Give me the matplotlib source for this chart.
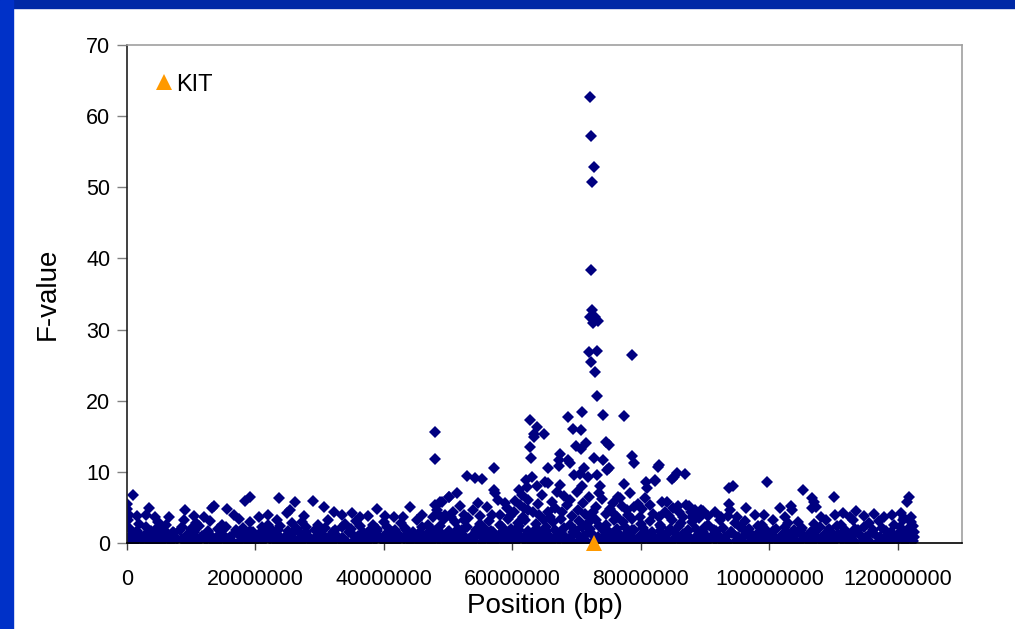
import matplotlib
matplotlib.use('Agg')
import matplotlib.pyplot as plt
from matplotlib.patches import Rectangle

plt.rcParams['font.family'] = ['Liberation Sans', 'DejaVu Sans']

# SNP positions (Mb) and F-values, dense band first
low_a = [
    (0.2, 0.3), (1.2, 0.1), (2.4, 0.4), (3.4, 0.2), (4.6, 0.0), (5.6, 0.3), (6.9, 0.2), (7.8, 0.5),
    (9.0, 0.1), (10.1, 0.3), (11.1, 0.2), (12.3, 0.4), (13.4, 0.1), (14.4, 0.3), (15.6, 0.2), (16.7, 0.0),
    (17.8, 0.4), (18.9, 0.2), (20.0, 0.1), (21.1, 0.3), (22.2, 0.5), (23.2, 0.2), (24.4, 0.1), (25.5, 0.3),
    (26.6, 0.2), (27.6, 0.4), (28.8, 0.0), (29.9, 0.3), (31.0, 0.2), (32.1, 0.1), (33.2, 0.4), (34.3, 0.2),
    (35.3, 0.3), (36.5, 0.1), (37.6, 0.2), (38.6, 0.4), (39.8, 0.3), (40.9, 0.1), (42.0, 0.2), (43.1, 0.5),
    (44.1, 0.2), (45.3, 0.3), (46.4, 0.1), (47.5, 0.2), (48.6, 0.4), (49.6, 0.1), (50.8, 0.3), (51.9, 0.2),
    (53.0, 0.0), (54.0, 0.3), (55.2, 0.2), (56.3, 0.4), (57.3, 0.1), (58.5, 0.3), (59.6, 0.2), (60.6, 0.1),
    (61.8, 0.4), (62.9, 0.2), (64.0, 0.3), (65.0, 0.1), (66.2, 0.2), (67.3, 0.4), (68.3, 0.2), (69.5, 0.1),
    (70.6, 0.3), (71.6, 0.2), (72.8, 0.4), (73.9, 0.1), (75.0, 0.3), (76.0, 0.2), (77.2, 0.0), (78.3, 0.3),
    (79.3, 0.2), (80.5, 0.4), (81.6, 0.1), (82.6, 0.3), (83.8, 0.2), (84.9, 0.1), (86.0, 0.4), (87.0, 0.2),
    (88.2, 0.3), (89.3, 0.1), (90.3, 0.2), (91.5, 0.4), (92.6, 0.2), (93.6, 0.1), (94.8, 0.3), (95.9, 0.2),
    (96.9, 0.0), (98.1, 0.3), (99.2, 0.2), (100.2, 0.4), (101.4, 0.1), (102.5, 0.3), (103.5, 0.2), (104.7, 0.1),
    (105.8, 0.4), (106.8, 0.2), (108.0, 0.3), (109.1, 0.1), (110.1, 0.2), (111.3, 0.4), (112.4, 0.2), (113.4, 0.1),
    (114.6, 0.3), (115.7, 0.2), (116.7, 0.0), (117.9, 0.3), (119.0, 0.2), (120.0, 0.4), (121.2, 0.1), (122.3, 0.3),
]

low_b = [
    (0.7, 1.1), (1.8, 0.8), (2.9, 1.3), (4.0, 0.7), (5.1, 1.0), (6.3, 0.9), (7.3, 1.4), (8.5, 0.6),
    (9.5, 1.2), (10.6, 0.8), (11.7, 1.0), (12.8, 1.3), (13.9, 0.7), (15.0, 1.1), (16.1, 0.9), (17.2, 1.4),
    (18.3, 0.8), (19.4, 1.0), (20.6, 1.2), (21.6, 0.7), (22.7, 1.3), (23.8, 0.9), (24.9, 1.1), (26.0, 0.6),
    (27.1, 1.2), (28.2, 1.0), (29.4, 0.8), (30.4, 1.3), (31.5, 0.9), (32.6, 1.1), (33.7, 0.7), (34.8, 1.4),
    (35.9, 1.0), (37.0, 0.8), (38.1, 1.2), (39.2, 0.9), (40.3, 1.3), (41.4, 0.7), (42.5, 1.0), (43.6, 1.2),
    (44.7, 0.8), (45.8, 1.1), (46.9, 1.4), (48.0, 0.9), (49.1, 1.2), (50.2, 0.7), (51.3, 1.3), (52.4, 1.0),
    (53.5, 0.8), (54.6, 1.2), (55.7, 1.4), (56.8, 0.9), (57.9, 1.1), (59.0, 0.7), (60.1, 1.3), (61.2, 1.0),
    (62.3, 1.2), (63.4, 0.8), (64.5, 1.4), (65.6, 1.1), (66.7, 0.9), (67.8, 1.3), (68.9, 0.7), (70.0, 1.2),
    (71.1, 1.0), (72.2, 1.4), (73.3, 0.8), (74.4, 1.1), (75.5, 1.3), (76.6, 0.9), (77.7, 1.2), (78.8, 0.7),
    (79.9, 1.0), (81.0, 1.3), (82.1, 0.8), (83.2, 1.1), (84.3, 1.4), (85.4, 0.9), (86.5, 1.2), (87.6, 0.7),
    (88.7, 1.0), (89.8, 1.3), (90.9, 0.8), (92.0, 1.1), (93.1, 0.9), (94.2, 1.4), (95.3, 0.7), (96.4, 1.2),
    (97.5, 1.0), (98.6, 0.8), (99.7, 1.3), (100.8, 0.9), (101.9, 1.1), (103.0, 0.7), (104.1, 1.2), (105.2, 1.0),
    (106.3, 1.4), (107.4, 0.8), (108.5, 1.1), (109.6, 0.9), (110.7, 1.3), (111.8, 0.7), (112.9, 1.0), (114.0, 1.2),
    (115.1, 0.8), (116.2, 1.4), (117.3, 0.9), (118.4, 1.1), (119.5, 0.7), (120.6, 1.3), (121.7, 1.0), (122.5, 0.8),
]

low_c = [
    (0.3, 2.1), (1.5, 1.7), (3.0, 2.3), (4.3, 1.8), (5.5, 2.0), (7.2, 1.6), (8.6, 2.2), (9.9, 1.9),
    (11.2, 2.4), (12.6, 1.7), (14.1, 2.0), (15.4, 2.3), (16.9, 1.8), (18.1, 2.1), (19.6, 1.6), (21.0, 2.2),
    (22.4, 1.9), (23.9, 2.4), (25.1, 1.7), (26.5, 2.0), (27.9, 2.3), (29.3, 1.8), (30.8, 2.1), (32.0, 1.6),
    (33.5, 2.2), (34.9, 1.9), (36.2, 2.4), (37.7, 1.7), (39.0, 2.0), (40.5, 2.3), (41.8, 1.8), (43.3, 2.1),
    (44.6, 1.6), (46.0, 2.2), (47.4, 1.9), (48.8, 2.4), (50.1, 1.7), (51.5, 2.0), (52.9, 2.3), (54.3, 1.8),
    (55.6, 2.1), (57.0, 1.6), (58.4, 2.2), (59.8, 1.9), (61.1, 2.4), (62.5, 1.7), (63.9, 2.0), (65.3, 2.3),
    (66.6, 1.8), (68.0, 2.1), (69.4, 1.6), (70.8, 2.2), (72.1, 1.9), (73.5, 2.4), (74.9, 1.7), (76.3, 2.0),
    (77.6, 2.3), (79.0, 1.8), (80.4, 2.1), (81.8, 1.6), (83.1, 2.2), (84.5, 1.9), (85.9, 2.4), (87.3, 1.7),
    (88.6, 2.0), (90.0, 2.3), (91.4, 1.8), (92.8, 2.1), (94.1, 1.6), (95.5, 2.2), (96.9, 1.9), (98.3, 2.4),
    (99.6, 1.7), (101.0, 2.0), (102.4, 2.3), (103.8, 1.8), (105.1, 2.1), (106.5, 1.6), (107.9, 2.2), (109.3, 1.9),
    (110.6, 2.4), (112.0, 1.7), (113.4, 2.0), (114.8, 2.3), (116.1, 1.8), (117.5, 2.1), (118.9, 1.6), (120.3, 2.2),
    (121.6, 1.9), (122.4, 2.4),
]

low_d = [
    (0.1, 3.2), (1.9, 2.7), (4.8, 3.0), (6.0, 2.6), (8.9, 3.3), (10.8, 2.8), (13.0, 3.1), (14.8, 2.5),
    (17.5, 3.4), (19.2, 2.9), (21.9, 2.6), (23.3, 3.2), (25.7, 2.8), (27.3, 3.0), (29.8, 2.5), (31.3, 3.3),
    (34.0, 2.7), (35.7, 3.1), (38.3, 2.6), (40.0, 3.0), (42.6, 2.8), (45.2, 3.2), (46.8, 2.6), (49.4, 3.4),
    (51.0, 2.9), (52.5, 3.3), (54.9, 2.7), (56.4, 3.1), (58.0, 2.6), (59.3, 3.4), (60.8, 2.8), (62.0, 3.2),
    (63.6, 2.7), (64.9, 3.3), (66.3, 2.9), (67.6, 3.4), (69.0, 2.6), (70.3, 3.1), (71.8, 2.8), (73.0, 3.3),
    (74.5, 2.6), (75.8, 3.2), (77.2, 2.9), (78.6, 3.4), (80.0, 2.7), (81.4, 3.1), (83.0, 2.6), (84.8, 3.3),
    (86.2, 2.8), (88.0, 3.0), (90.4, 2.6), (92.3, 3.2), (94.6, 2.8), (96.2, 3.1), (98.8, 2.6), (100.5, 3.3),
    (102.9, 2.8), (104.5, 3.0), (107.0, 2.7), (108.8, 3.2), (111.2, 2.6), (113.0, 3.3), (115.5, 2.8), (117.0, 3.1),
    (119.4, 2.6), (120.8, 3.2), (122.1, 2.9),
]

low_e = [
    (0.5, 0.6), (1.6, 1.6), (2.6, 0.7), (3.8, 1.7), (4.9, 0.5), (6.0, 1.5), (7.0, 0.8), (8.2, 1.8),
    (9.3, 0.6), (10.4, 1.6), (11.4, 0.7), (12.6, 1.5), (13.7, 0.5), (14.8, 1.8), (15.8, 0.6), (17.0, 1.6),
    (18.1, 0.7), (19.2, 1.7), (20.2, 0.5), (21.4, 1.5), (22.5, 0.8), (23.5, 1.8), (24.7, 0.6), (25.8, 1.6),
    (26.9, 0.7), (27.9, 1.5), (29.1, 0.5), (30.2, 1.7), (31.2, 0.6), (32.4, 1.8), (33.5, 0.7), (34.6, 1.6),
    (35.6, 0.5), (36.8, 1.5), (37.9, 0.8), (38.9, 1.7), (40.1, 0.6), (41.2, 1.6), (42.2, 0.7), (43.4, 1.8),
    (44.5, 0.5), (45.6, 1.5), (46.6, 0.6), (47.8, 1.7), (48.9, 0.7), (49.9, 1.6), (51.1, 0.5), (52.2, 1.8),
    (53.3, 0.6), (54.3, 1.5), (55.5, 0.7), (56.6, 1.7), (57.6, 0.5), (58.8, 1.6), (59.9, 0.8), (61.0, 1.8),
    (62.0, 0.6), (63.2, 1.5), (64.3, 0.7), (65.3, 1.7), (66.5, 0.5), (67.6, 1.6), (68.7, 0.6), (69.7, 1.8),
    (70.9, 0.7), (72.0, 1.5), (73.0, 0.5), (74.2, 1.7), (75.3, 0.6), (76.3, 1.6), (77.5, 0.8), (78.6, 1.8),
    (79.7, 0.6), (80.7, 1.5), (81.9, 0.7), (83.0, 1.7), (84.0, 0.5), (85.2, 1.6), (86.3, 0.6), (87.4, 1.8),
    (88.4, 0.7), (89.6, 1.5), (90.7, 0.5), (91.7, 1.7), (92.9, 0.6), (94.0, 1.6), (95.1, 0.8), (96.1, 1.8),
    (97.3, 0.6), (98.4, 1.5), (99.4, 0.7), (100.6, 1.7), (101.7, 0.5), (102.8, 1.6), (103.8, 0.6), (105.0, 1.8),
    (106.1, 0.7), (107.1, 1.5), (108.3, 0.5), (109.4, 1.7), (110.4, 0.6), (111.6, 1.6), (112.7, 0.8), (113.8, 1.8),
    (114.8, 0.6), (116.0, 1.5), (117.1, 0.7), (118.1, 1.7), (119.3, 0.5), (120.4, 1.6), (121.4, 0.6), (122.5, 1.5),
]

# scattered SNPs above the band, left arm
mid_left = [
    (0.0, 5.5), (0.0, 4.8), (0.3, 4.0), (0.9, 6.7), (1.5, 3.8), (3.4, 4.9), (3.0, 4.0), (4.3, 3.6),
    (6.5, 3.7), (9.1, 4.7), (10.5, 3.8), (12.0, 3.6), (13.5, 5.2), (13.2, 4.9), (15.6, 4.8), (16.6, 3.9),
    (18.4, 5.9), (19.1, 6.4), (20.5, 3.7), (22.0, 3.9), (23.7, 6.3), (24.9, 4.2), (25.4, 4.6), (26.2, 5.7),
    (27.5, 3.8), (28.9, 5.9), (30.6, 5.0), (32.2, 4.4), (33.5, 3.9), (35.0, 4.2), (36.3, 3.6), (37.5, 3.8),
    (39.0, 4.8), (40.2, 3.8), (41.5, 3.6), (43.0, 3.7), (44.1, 5.0), (46.0, 3.9),
]

# region around KIT
peak_zone = [
    (48.0, 15.6), (48.0, 11.8), (48.0, 5.3), (49.0, 5.7), (48.2, 4.6), (48.8, 5.7), (50.1, 6.4), (50.2, 6.5),
    (51.4, 7.0), (49.5, 4.0), (50.8, 4.4), (51.8, 5.2), (52.5, 4.0), (52.9, 9.4), (54.2, 9.2), (55.3, 9.0),
    (53.8, 4.6), (55.0, 3.8), (56.0, 5.0), (57.1, 7.4), (57.3, 7.0), (57.2, 10.5), (58.9, 5.6), (59.2, 4.9),
    (58.0, 4.0), (60.2, 4.3), (61.0, 7.4), (61.5, 6.7), (61.2, 5.3), (61.8, 4.9), (62.5, 6.0), (62.1, 8.9),
    (63.0, 9.3), (62.3, 7.9), (63.8, 8.0), (62.7, 17.3), (63.8, 16.3), (63.3, 15.3), (63.4, 14.9), (65.0, 15.3),
    (62.8, 13.5), (62.9, 12.0), (63.2, 4.3), (64.0, 5.5), (65.1, 8.6), (65.6, 8.4), (65.6, 10.6), (66.2, 5.8),
    (66.7, 4.9), (65.6, 4.4), (67.4, 12.5), (67.3, 11.7), (67.2, 10.8), (67.4, 8.2), (68.6, 17.7), (68.7, 11.7),
    (68.9, 11.2), (68.5, 5.3), (69.4, 16.0), (70.7, 15.9), (69.9, 13.7), (70.7, 13.2), (71.5, 14.0), (69.6, 9.5),
    (70.6, 9.7), (71.7, 9.3), (70.8, 18.4), (70.8, 8.0), (71.2, 10.5), (69.0, 6.0), (70.2, 4.7), (71.0, 5.6),
    (72.0, 6.5), (72.7, 11.9), (73.2, 9.5), (73.7, 8.0), (74.1, 11.7), (74.1, 18.0), (74.5, 14.2), (75.1, 13.8),
    (75.0, 10.6), (74.7, 10.3), (73.0, 5.0), (74.0, 6.2), (75.2, 4.8), (76.5, 6.5), (76.8, 6.3), (77.3, 17.9),
    (77.3, 8.3), (78.3, 7.0), (78.7, 12.3), (78.9, 11.2), (78.7, 26.4), (76.0, 4.0), (77.8, 4.6), (79.5, 5.5),
    (80.8, 8.6), (82.2, 8.7), (81.0, 7.7), (80.2, 4.8), (81.5, 5.3), (82.6, 10.7), (82.9, 11.0), (82.2, 8.9),
    (83.3, 5.8), (84.1, 5.8), (84.8, 9.0), (85.1, 9.3), (85.6, 9.8), (86.9, 9.7), (85.0, 4.9), (86.0, 4.4),
    (85.8, 5.2), (87.0, 5.4), (87.5, 5.2), (88.4, 4.6), (88.5, 4.0), (89.3, 4.6), (89.7, 4.5), (88.0, 3.6),
    (47.6, 3.7), (48.5, 3.9), (50.4, 3.6), (53.1, 3.5), (54.6, 5.6), (56.9, 3.9), (57.8, 6.1), (59.6, 3.8),
    (60.4, 5.9), (61.6, 3.7), (62.4, 4.6), (64.2, 3.9), (64.6, 6.8), (65.9, 3.6), (66.9, 7.2), (67.8, 4.3),
    (68.1, 6.6), (69.3, 3.8), (70.0, 7.1), (71.3, 4.1), (71.9, 3.6), (72.6, 4.4), (73.5, 7.0), (74.6, 4.1),
    (75.6, 5.6), (76.3, 3.7), (77.0, 5.2), (78.0, 3.9), (78.9, 5.0), (79.9, 3.7), (80.7, 6.3), (81.9, 4.1),
    (82.8, 3.6), (83.7, 4.4), (84.4, 3.8), (86.6, 3.7), (87.8, 4.3), (89.0, 3.5),
]

peak_top = [
    (72.1, 62.7), (72.3, 57.2), (72.7, 52.9), (72.4, 50.7), (72.3, 38.4), (72.4, 32.7), (72.1, 31.8), (72.9, 31.7),
    (73.4, 31.2), (72.5, 30.9), (71.9, 26.9), (73.1, 27.0), (72.2, 25.4), (72.9, 24.1), (73.2, 20.7),
]

mid_right = [
    (90.5, 3.8), (91.5, 4.4), (92.5, 3.6), (93.7, 7.8), (94.4, 8.0), (93.8, 5.5), (93.9, 4.7), (93.5, 3.8),
    (95.0, 3.7), (96.3, 4.9), (97.8, 3.9), (99.1, 4.0), (99.6, 8.6), (101.7, 4.9), (103.3, 5.2), (103.6, 4.6),
    (102.5, 3.6), (105.3, 7.4), (106.6, 6.3), (106.9, 5.8), (107.2, 5.1), (106.6, 4.9), (108.0, 3.7), (110.1, 6.4),
    (110.2, 3.9), (111.5, 4.2), (112.5, 3.7), (113.5, 4.5), (114.8, 3.8), (116.3, 4.1), (117.8, 3.6), (119.1, 3.9),
    (120.5, 4.2), (121.8, 6.5), (121.5, 5.8), (122.0, 3.7), (121.0, 3.5),
]

kit_pos_mb = [72.7]
kit_f = [0.0]

x_ticks = [0, 20000000, 40000000, 60000000, 80000000, 100000000, 120000000]
y_ticks = [0, 10, 20, 30, 40, 50, 60, 70]


def plot_chart():
    fig = plt.figure(figsize=(10.15, 6.29), dpi=100)
    # blue slide frame (top and left)
    fig.patches.append(Rectangle((0, 0.9873), 1, 0.0127, transform=fig.transFigure,
                                 color='#0029A6', zorder=0))
    fig.patches.append(Rectangle((0, 0), 0.0128, 1, transform=fig.transFigure,
                                 color='#0031C8', zorder=0))

    ax = fig.add_axes([0.1251, 0.1367, 0.8227, 0.7918])

    snps = low_a + low_b + low_c + low_d + low_e + mid_left + peak_zone + peak_top + mid_right
    x = [p[0] * 1e6 for p in snps]
    y = [p[1] for p in snps]
    ax.plot(x, y, 'D', color='#000080', markersize=6.2, markeredgewidth=0, linestyle='none')

    kit_x = [v * 1e6 for v in kit_pos_mb]
    ax.plot(kit_x, kit_f, '^', color='#FF9900', markersize=12, markeredgewidth=0,
            linestyle='none', clip_on=False, zorder=5, label='KIT')

    ax.set_xlim(0, 130000000)
    ax.set_ylim(0, 70)
    ax.set_xticks(x_ticks)
    ax.set_xticklabels([str(t) for t in x_ticks])
    ax.set_yticks(y_ticks)

    ax.tick_params(axis='y', direction='out', length=7, width=1, color='#808080',
                   labelsize=15.5, pad=5)
    ax.tick_params(axis='x', direction='out', length=5, width=1, color='#404040',
                   labelsize=15.5, pad=14)

    ax.spines['left'].set_color('#202020')
    ax.spines['bottom'].set_color('#000000')
    ax.spines['top'].set_color('#A0A0A0')
    ax.spines['right'].set_color('#A0A0A0')
    for s in ax.spines.values():
        s.set_linewidth(1.2)

    ax.set_xlabel('Position (bp)', fontsize=20, labelpad=2)
    ax.set_ylabel('F-value', fontsize=20, labelpad=18)

    ax.legend(loc='upper left', bbox_to_anchor=(0.007, 0.985), frameon=False, fontsize=17,
              handlelength=0.8, handletextpad=0.15, borderaxespad=0.5)

    fig.savefig('out.png', dpi=100)


if __name__ == '__main__':
    plot_chart()
